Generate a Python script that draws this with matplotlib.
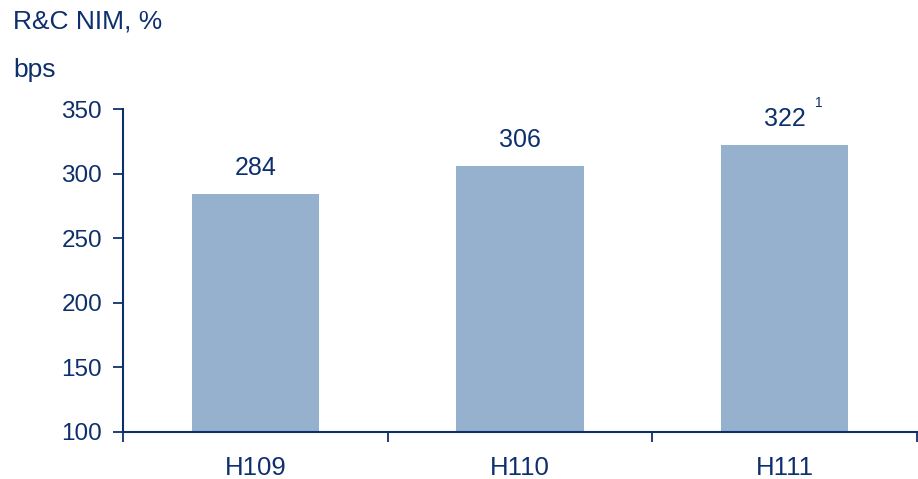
import matplotlib; matplotlib.use("Agg")
import matplotlib.pyplot as plt
import numpy as np

periods = ["H109", "H110", "H111"]
nim_bps = [284, 306, 322]
footnote = "1"

navy = "#0e2f6e"
bar_c = "#95b1cd"
plt.rcParams["font.family"] = ["Liberation Sans", "DejaVu Sans"]

fig = plt.figure(figsize=(9.18, 4.79), dpi=100)
ax = fig.add_axes([123/918, 47/479, 794/918, 323/479])

x = np.arange(len(periods))
ax.bar(x, nim_bps, width=0.48, color=bar_c, bottom=0, zorder=2)
ax.set_ylim(100, 350)
ax.set_xlim(-0.5, len(periods) - 0.5)
ax.set_yticks(range(100, 351, 50))

for xi, v in zip(x, nim_bps):
    ax.annotate(f"{v}", (xi, v), xytext=(0, 10), textcoords="offset points",
                ha="center", va="bottom", fontsize=18, color=navy)
ax.annotate(footnote, (x[-1], nim_bps[-1]), xytext=(22, 25), textcoords="offset points",
            ha="left", va="bottom", fontsize=10, color=navy)

# category labels between boundary ticks
ax.set_xticks(np.arange(-0.5, len(periods), 1.0))
ax.set_xticklabels([])
ax.set_xticks(x, minor=True)
ax.set_xticklabels(periods, minor=True)
ax.tick_params(axis="x", which="major", direction="out", length=7, width=1.3, color=navy)
ax.tick_params(axis="x", which="minor", length=0, pad=17, labelsize=18.5, labelcolor=navy)
ax.tick_params(axis="y", direction="out", length=7, width=1.3, color=navy,
               labelsize=17.5, labelcolor=navy, pad=8)

for s in ("top", "right"):
    ax.spines[s].set_visible(False)
for s in ("left", "bottom"):
    ax.spines[s].set_color(navy)
    ax.spines[s].set_linewidth(1.5)
    ax.spines[s].set_zorder(3)

fig.text(13/918, 1 - 22/479, "R&C NIM, %", ha="left", va="center", fontsize=19, color=navy)
fig.text(13/918, 1 - 70/479, "bps", ha="left", va="center", fontsize=19, color=navy)

fig.savefig("out.png", dpi=100)
